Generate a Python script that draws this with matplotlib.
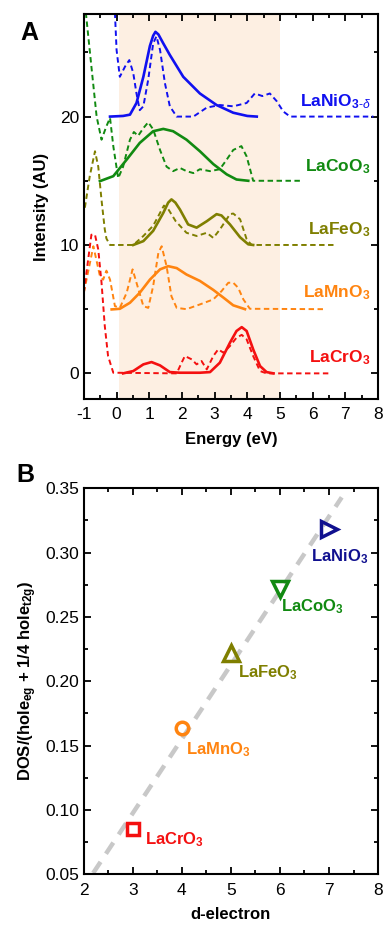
import matplotlib
matplotlib.use('Agg')
import matplotlib.pyplot as plt
from matplotlib.ticker import MultipleLocator

plt.rcParams['font.family'] = ['Liberation Sans', 'DejaVu Sans']
plt.rcParams['mathtext.fontset'] = 'custom'
plt.rcParams['mathtext.rm'] = 'Liberation Sans'
plt.rcParams['mathtext.bf'] = 'Liberation Sans:bold'
plt.rcParams['mathtext.it'] = 'Liberation Sans:italic'
plt.rcParams['axes.unicode_minus'] = False

# ---- panel A: spectra (offset by 5 per compound) ----
ni_sx = [-0.2, 0.2, 0.41, 0.61, 0.82, 1.02, 1.12, 1.19, 1.28, 1.43, 1.63, 2.04, 2.55, 3.06, 3.57, 4.0, 4.29]
ni_sy = [20.0, 20.05, 20.15, 21.06, 23.1, 25.5, 26.3, 26.6, 26.4, 25.7, 24.8, 23.1, 21.8, 20.9, 20.3, 20.05, 20.0]
ni_dx = [-0.05, 0.0, 0.1, 0.26, 0.39, 0.51, 0.61, 0.71, 0.82, 0.97, 1.12, 1.22, 1.33, 1.48, 1.63, 1.84, 2.35,
         2.76, 3.16, 3.57, 3.98, 4.23, 4.46, 4.69, 4.9, 5.1, 5.31, 7.86]
ni_dy = [28.1, 25.2, 23.1, 23.9, 24.4, 23.4, 21.8, 20.5, 20.8, 22.9, 25.7, 26.25, 25.2, 22.6, 20.8, 20.0, 20.0,
         20.7, 20.9, 20.8, 21.06, 21.8, 21.6, 21.8, 21.2, 20.4, 20.0, 20.0]

co_sx = [-0.51, -0.1, 0.31, 0.71, 1.12, 1.43, 1.73, 2.14, 2.55, 2.96, 3.37, 3.67, 4.03]
co_sy = [14.97, 15.36, 16.65, 17.95, 18.86, 19.04, 18.86, 18.2, 17.3, 16.3, 15.5, 15.1, 15.0]
co_dx = [-0.94, -0.77, -0.61, -0.46, -0.31, -0.2, -0.1, 0.05, 0.2, 0.41, 0.53, 0.66, 0.82, 0.97, 1.12, 1.33,
         1.53, 1.73, 1.94, 2.14, 2.35, 2.55, 2.86, 3.16, 3.37, 3.57, 3.82, 3.98, 4.18, 5.61]
co_dy = [28.1, 23.9, 20.0, 18.2, 19.25, 19.9, 17.7, 15.2, 16.1, 18.2, 18.8, 18.5, 19.1, 19.56, 19.0, 17.4,
         16.1, 15.75, 16.0, 15.75, 15.6, 15.9, 15.75, 15.9, 16.65, 17.4, 17.7, 16.9, 15.0, 15.0]

fe_sx = [0.51, 0.82, 1.12, 1.43, 1.58, 1.68, 1.8, 1.94, 2.19, 2.45, 2.76, 3.06, 3.21, 3.47, 3.78, 4.03, 4.18]
fe_sy = [10.0, 10.3, 11.1, 12.5, 13.3, 13.55, 13.3, 12.76, 11.6, 11.35, 11.85, 12.4, 12.3, 11.6, 10.6, 10.05, 10.0]
fe_dx = [-0.97, -0.82, -0.66, -0.56, -0.46, -0.36, -0.31, -0.2, 0.51, 0.82, 1.12, 1.45, 1.58, 1.81, 2.14, 2.45,
         2.76, 2.96, 3.16, 3.47, 3.57, 3.78, 3.98, 4.13, 6.73]
fe_dy = [12.9, 15.36, 17.3, 16.1, 13.5, 11.2, 10.5, 10.0, 10.0, 10.7, 11.5, 13.07, 12.8, 11.85, 10.95, 10.7,
         10.95, 10.55, 11.2, 12.4, 12.45, 12.0, 10.45, 10.0, 10.0]

mn_sx = [-0.15, 0.1, 0.41, 0.71, 1.02, 1.33, 1.58, 1.84, 2.14, 2.55, 2.96, 3.27, 3.57, 3.93]
mn_sy = [4.98, 5.03, 5.5, 6.28, 7.3, 8.1, 8.35, 8.2, 7.7, 7.2, 6.5, 5.9, 5.3, 5.0]
mn_dx = [-1.0, -0.71, -0.51, -0.41, -0.31, -0.2, -0.05, 0.1, 0.31, 0.49, 0.61, 0.82, 0.97, 1.12, 1.28, 1.38,
         1.53, 1.68, 1.84, 2.14, 2.55, 2.96, 3.21, 3.42, 3.57, 3.72, 3.88, 4.08, 6.33]
mn_dy = [6.3, 9.9, 7.6, 7.3, 8.0, 7.3, 5.24, 5.1, 6.28, 8.1, 7.06, 5.24, 5.1, 6.8, 9.4, 9.9,
         8.35, 6.0, 5.1, 5.0, 5.37, 5.76, 6.4, 7.06, 7.06, 6.67, 5.76, 5.03, 5.0]

cr_sx = [0.2, 0.51, 0.82, 1.07, 1.33, 1.63, 1.94, 2.55, 2.86, 3.16, 3.47, 3.67, 3.83, 3.98, 4.18, 4.39, 4.59, 4.8]
cr_sy = [0.0, 0.18, 0.7, 0.88, 0.62, 0.1, 0.05, 0.05, 0.1, 0.83, 2.39, 3.3, 3.6, 3.3, 1.87, 0.57, 0.1, 0.0]
cr_dx = [-1.0, -0.77, -0.66, -0.56, -0.46, -0.36, -0.26, -0.1, 1.84, 1.99, 2.09, 2.3, 2.45, 2.6, 2.76, 2.96,
         3.11, 3.27, 3.47, 3.67, 3.83, 3.98, 4.18, 4.39, 4.59, 6.53]
cr_dy = [6.3, 10.8, 10.8, 9.65, 7.06, 3.68, 1.35, 0.05, 0.0, 0.83, 1.35, 1.09, 0.7, 0.96, 0.31, 1.35,
         1.87, 1.61, 2.13, 2.78, 3.0, 2.65, 1.35, 0.18, 0.0, 0.0]

spectra = [
    ('LaNiO$_{\\mathbf{3\\text{-}}\\delta}$', '#1010f0', ni_sx, ni_sy, ni_dx, ni_dy, 21.2),
    ('LaCoO$_\\mathbf{3}$', '#118a11', co_sx, co_sy, co_dx, co_dy, 16.1),
    ('LaFeO$_\\mathbf{3}$', '#7f7f00', fe_sx, fe_sy, fe_dx, fe_dy, 11.2),
    ('LaMnO$_\\mathbf{3}$', '#ff8410', mn_sx, mn_sy, mn_dx, mn_dy, 6.3),
    ('LaCrO$_\\mathbf{3}$', '#f41010', cr_sx, cr_sy, cr_dx, cr_dy, 1.2),
]

# ---- panel B: DOS vs d-electron ----
d_electron = [3, 4, 5, 6, 7]
dos_ratio = [0.085, 0.164, 0.222, 0.272, 0.318]
names_b = ['LaCrO$_\\mathbf{3}$', 'LaMnO$_\\mathbf{3}$', 'LaFeO$_\\mathbf{3}$', 'LaCoO$_\\mathbf{3}$', 'LaNiO$_\\mathbf{3}$']
colors_b = ['#f41010', '#ff8410', '#7f7f00', '#118a11', '#10108f']
markers_b = ['s', 'o', '^', 'v', '>']
label_x = [3.25, 4.09, 5.15, 6.03, 6.64]
label_y = [0.077, 0.147, 0.207, 0.258, 0.297]
fit_x = [2.19, 7.26]
fit_y = [0.051, 0.343]


def style_axes(ax):
    ax.tick_params(which='both', direction='in', top=True, right=True, labelsize=12.5, width=1.3)
    ax.tick_params(which='major', length=5)
    ax.tick_params(which='minor', length=3)
    ax.tick_params(axis='x', pad=6)
    for s in ax.spines.values():
        s.set_linewidth(1.5)


fig = plt.figure(figsize=(3.83, 9.25), dpi=100)
ax1 = fig.add_axes([0.219, 0.5686, 0.768, 0.4164])
ax2 = fig.add_axes([0.219, 0.0548, 0.768, 0.4173])

ax1.axvspan(0.08, 5.0, color='#fdefe2', lw=0, zorder=0)
for name, c, sx, sy, dx, dy, ly in spectra:
    ax1.plot(dx, dy, color=c, lw=1.4, ls=(0, (2.8, 1.8)))
    ax1.plot(sx, sy, color=c, lw=1.9)
    ax1.text(7.77, ly, name, color=c, fontsize=12.5, fontweight='bold', ha='right', va='center')
ax1.set_xlim(-1, 8)
ax1.set_ylim(-2, 28)
ax1.xaxis.set_major_locator(MultipleLocator(1))
ax1.xaxis.set_minor_locator(MultipleLocator(0.5))
ax1.yaxis.set_major_locator(MultipleLocator(10))
ax1.yaxis.set_minor_locator(MultipleLocator(5))
ax1.set_xlabel('Energy (eV)', fontsize=12, fontweight='bold', labelpad=7)
ax1.set_ylabel('Intensity (AU)', fontsize=12, fontweight='bold', labelpad=8)
style_axes(ax1)
fig.text(0.078, 0.964, 'A', fontsize=18, fontweight='bold', ha='center', va='center')

ax2.plot(fit_x, fit_y, color='#c8c8c8', lw=3.2, ls=(0, (3, 2.2)), zorder=1)
for x, y, name, c, m, tx, ty in zip(d_electron, dos_ratio, names_b, colors_b, markers_b, label_x, label_y):
    ms = {'s': 8.5, 'o': 9}.get(m, 11)
    ax2.plot([x], [y], marker=m, ms=ms, mfc='none', mec=c, mew=2.5, ls='none', zorder=3)
    ax2.text(tx, ty, name, color=c, fontsize=12, fontweight='bold', ha='left', va='center')
ax2.set_xlim(2, 8)
ax2.set_ylim(0.05, 0.35)
ax2.xaxis.set_major_locator(MultipleLocator(1))
ax2.xaxis.set_minor_locator(MultipleLocator(0.5))
ax2.yaxis.set_major_locator(MultipleLocator(0.05))
ax2.yaxis.set_minor_locator(MultipleLocator(0.025))
ax2.yaxis.set_major_formatter(plt.FormatStrFormatter('%.2f'))
ax2.set_xlabel('d-electron', fontsize=12, fontweight='bold', labelpad=7)
ax2.set_ylabel('DOS/(hole$_{\\mathbf{eg}}$ + 1/4 hole$_{\\mathbf{t2g}}$)', fontsize=12, fontweight='bold')
style_axes(ax2)
fig.text(0.065, 0.486, 'B', fontsize=18, fontweight='bold', ha='center', va='center')

fig.savefig('out.png', dpi=100)
